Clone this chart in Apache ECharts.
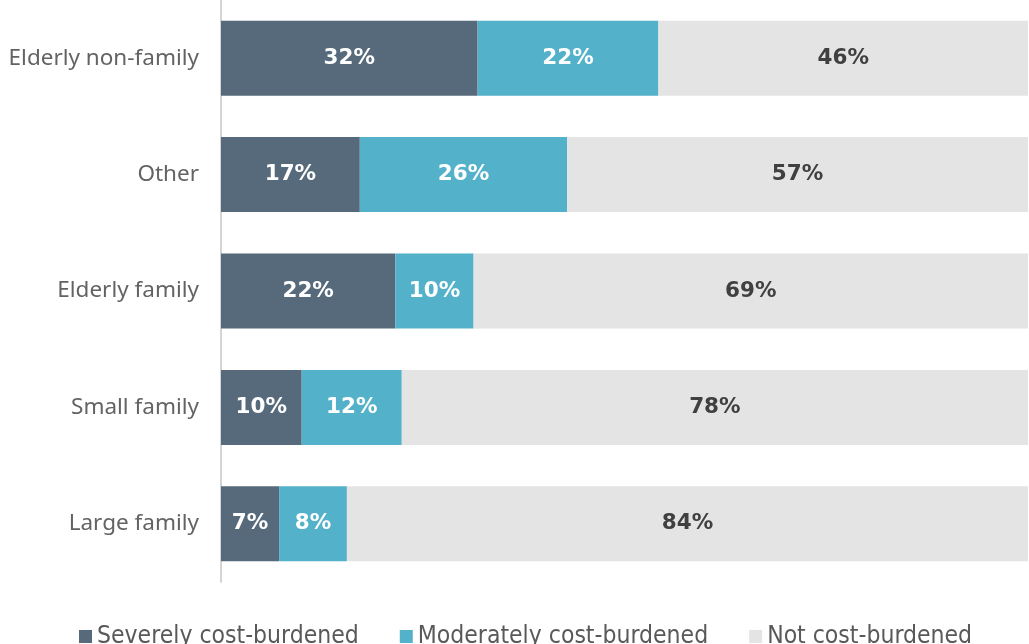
<!DOCTYPE html>
<html>
<head>
<meta charset="utf-8">
<script src="https://cdn.jsdelivr.net/npm/echarts@6/dist/echarts.min.js"></script>
<style>
  html, body { margin: 0; padding: 0; background: #ffffff; }
  #chart { width: 1029px; height: 644px; }
</style>
</head>
<body>
<div id="chart"></div>
<script>
// Household types, listed top to bottom
const categories = ['Elderly non-family', 'Other', 'Elderly family', 'Small family', 'Large family'];

// Share of households (%) by cost burden
const severe = [31.8, 17.2, 21.6, 10.0, 7.2];
const moderate = [22.4, 25.7, 9.7, 12.4, 8.4];
const notBurdened = [45.8, 57.1, 68.7, 77.6, 84.4];

const seriesNames = ['Severely cost-burdened', 'Moderately cost-burdened', 'Not cost-burdened'];
const seriesColors = ['#566a7b', '#53b1ca', '#e4e4e4'];
const labelColors = ['#ffffff', '#ffffff', '#404040'];

const chart = echarts.init(document.getElementById('chart'), null, { renderer: 'canvas' });

function makeSeries(name, values, i) {
  return {
    name: name,
    type: 'bar',
    stack: 'total',
    barWidth: 75,
    data: values,
    itemStyle: { color: seriesColors[i] },
    emphasis: { disabled: true },
    label: {
      show: true,
      position: 'inside',
      color: labelColors[i],
      fontFamily: 'DejaVu Sans',
      fontWeight: 'bold',
      fontSize: 21.5,
      formatter: p => Math.round(p.value) + '%'
    }
  };
}

chart.setOption({
  animation: false,
  grid: { left: 221, right: 1, top: 0, height: 582, containLabel: false },
  legend: {
    left: 74,
    top: 619,
    itemWidth: 13,
    itemHeight: 13,
    itemGap: 41,
    icon: 'rect',
    textStyle: {
      fontFamily: 'Liberation Sans Narrow, DejaVu Sans Condensed, sans-serif',
      fontSize: 24.5,
      color: '#595959'
    },
    data: seriesNames
  },
  xAxis: {
    type: 'value',
    min: 0,
    max: 100,
    show: false
  },
  yAxis: {
    type: 'category',
    inverse: true,
    data: categories,
    axisLine: { show: true, lineStyle: { color: '#d4d4d4', width: 2 } },
    axisTick: { show: false },
    axisLabel: {
      margin: 22,
      fontFamily: 'Noto Sans',
      fontSize: 22.5,
      color: '#636363'
    }
  },
  series: [
    makeSeries(seriesNames[0], severe, 0),
    makeSeries(seriesNames[1], moderate, 1),
    makeSeries(seriesNames[2], notBurdened, 2)
  ]
});
</script>
</body>
</html>
